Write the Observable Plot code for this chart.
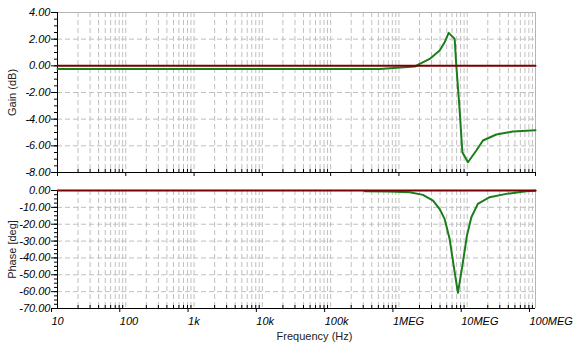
<!DOCTYPE html>
<html><head><meta charset="utf-8">
<script src="https://cdn.jsdelivr.net/npm/d3@7"></script>
<script src="https://cdn.jsdelivr.net/npm/@observablehq/plot@0.6"></script>
<style>
body{margin:0;background:#fff;}
#wrap{position:relative;width:573px;height:355px;background:#fff;}
#wrap svg{display:block;}
</style>
</head><body><div id="wrap"></div>
<script>
// Gain (dB) vs frequency
const gainFreq = [10, 1e3, 1e5, 525e3, 1.71e6, 2.02e6, 2.82e6, 3.95e6, 4.68e6, 5.35e6, 6.55e6, 6.93e6, 7.75e6, 8.49e6, 10.25e6, 13.6e6, 17e6, 26.7e6, 46.6e6, 1e8];
const gainDb   = [-0.23, -0.23, -0.23, -0.23, -0.05, 0.15, 0.52, 1.15, 1.77, 2.47, 2.02, 0, -3.35, -6.48, -7.23, -6.35, -5.6, -5.15, -4.93, -4.83];
// Phase (deg) vs frequency
const phaseFreq = [3.16e5, 7e5, 1.44e6, 2.25e6, 3.16e6, 3.95e6, 4.68e6, 5.53e6, 6.34e6, 7.31e6, 8.49e6, 9.9e6, 11.5e6, 14.3e6, 21.3e6, 37.3e6, 73e6, 1e8];
const phaseDeg  = [-0.4, -0.6, -1.0, -2.6, -6, -11, -17, -28.8, -44.7, -60.7, -44.7, -26.8, -15.9, -7.9, -4, -2, -0.4, -0.2];
// Reference (red) trace
const refFreq = [10, 1e8];
const refGain = [0, 0];
const refPhase = [0, 0];
// Ticks
const decadeTicks = [10, 100, 1e3, 1e4, 1e5, 1e6, 1e7, 1e8];
const decadeLabels = ["10", "100", "1k", "10k", "100k", "1MEG", "10MEG", "100MEG"];
const gainTicks = [4, 2, 0, -2, -4, -6, -8];
const phaseTicks = [0, -10, -20, -30, -40, -50, -60, -70];

const minorX = [];
for (let e = 1; e < 8; e++) for (let m = 2; m <= 9; m++) minorX.push(m * Math.pow(10, e));
const gainMinor = d3.range(-8, 4.01, 0.5);
const phaseMinor = d3.range(-70, 0.01, 2.5);
const labelOf = new Map(decadeTicks.map((t, i) => [t, decadeLabels[i]]));

const gain = gainFreq.map((f, i) => ({f, v: gainDb[i]}));
const phase = phaseFreq.map((f, i) => ({f, v: phaseDeg[i]}));
const refG = refFreq.map((f, i) => ({f, v: refGain[i]}));
const refP = refFreq.map((f, i) => ({f, v: refPhase[i]}));

const GRID = "#c0c0c0", BORDER = "#b4b4b4", GREEN = "#1b7d1b", RED = "#7a0000";
const style = {fontFamily: "'Liberation Sans', Arial, sans-serif", fontSize: "11px", background: "white", overflow: "visible"};

function panel({height, marginTop, marginBottom, ticks, minor, data, ref, label, withLabels}) {
  const inner = ticks.slice(1, -1);
  const mid = (d3.min(ticks) + d3.max(ticks)) / 2;
  return Plot.plot({
    width: 573, height, marginLeft: 57, marginRight: 38, marginTop, marginBottom,
    x: {type: "log", domain: [10, 1e8], axis: null},
    y: {domain: [d3.min(ticks), d3.max(ticks)], axis: null},
    style,
    marks: [
      Plot.ruleX(minorX, {stroke: GRID, strokeDasharray: "5,3"}),
      Plot.ruleX(decadeTicks.slice(1, -1), {stroke: GRID, strokeDasharray: "5,3"}),
      Plot.ruleY(inner, {stroke: GRID, strokeDasharray: "5,3"}),
      Plot.ruleY([d3.max(ticks)], {stroke: BORDER}),
      Plot.ruleX([1e8], {stroke: BORDER}),
      Plot.axisY({ticks: minor, tickSize: 3, tickFormat: () => "", stroke: "black", label: null}),
      Plot.axisY({ticks, tickSize: 6, tickPadding: 1, tickFormat: d => d.toFixed(2), fontStyle: "italic", fill: "black", stroke: "black", label: null}),
      Plot.axisX({ticks: minorX, tickSize: -3, tickFormat: () => "", stroke: "black", label: null}),
      withLabels
        ? Plot.axisX({ticks: decadeTicks, tickSize: 4, tickPadding: 5, tickFormat: d => labelOf.get(d), textAnchor: "start", dx: -6, fontStyle: "italic", fill: "black", stroke: "black", label: null})
        : Plot.axisX({ticks: decadeTicks, tickSize: 4, tickFormat: () => "", stroke: "black", label: null}),
      Plot.ruleX([10], {stroke: "black"}),
      Plot.ruleY([d3.min(ticks)], {stroke: "black"}),
      Plot.line(data, {x: "f", y: "v", stroke: GREEN, strokeWidth: 2}),
      Plot.line(ref, {x: "f", y: "v", stroke: RED, strokeWidth: 2}),
      Plot.text([label], {x: 10, y: mid, dx: -45, rotate: -90, fontSize: 11, fill: "#222"}),
      ...(withLabels ? [Plot.text(["Frequency (Hz)"], {frameAnchor: "bottom", dx: 18, dy: 31, fontSize: 11, fill: "#222"})] : [])
    ]
  });
}

const wrap = document.getElementById("wrap");
wrap.append(panel({height: 180, marginTop: 12, marginBottom: 8, ticks: gainTicks, minor: gainMinor, data: gain, ref: refG, label: "Gain (dB)", withLabels: false}));
wrap.append(panel({height: 175, marginTop: 10, marginBottom: 47, ticks: phaseTicks, minor: phaseMinor, data: phase, ref: refP, label: "Phase [deg]", withLabels: true}));
</script>
</body></html>
